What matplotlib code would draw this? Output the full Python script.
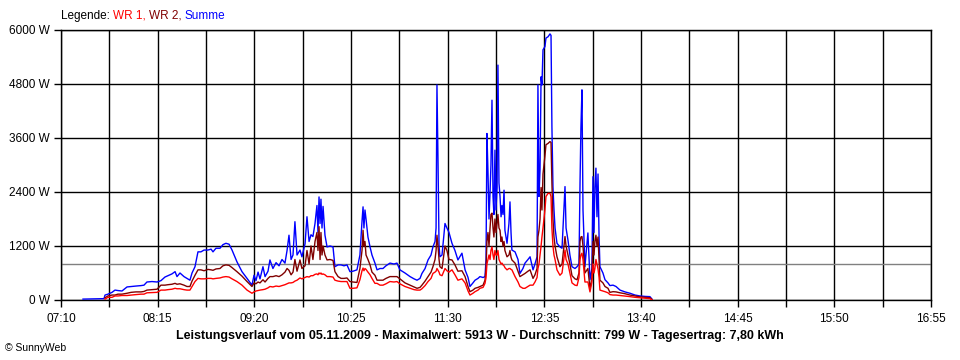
import matplotlib
matplotlib.use("Agg")
import matplotlib.pyplot as plt
from matplotlib.ticker import FixedLocator, MultipleLocator, FuncFormatter
import numpy as np

plt.rcParams['font.family'] = ['Liberation Sans', 'DejaVu Sans']

# time in minutes after midnight
minute = [
    444.8, 452.9, 458.9, 459.6, 461.6, 464.3, 466.3, 468.3, 471.0, 474.4,
    477.1, 480.4, 483.8, 485.8, 487.8, 491.2, 494.6, 497.2, 499.9, 501.9,
    504.6, 506.7, 508.0, 510.0, 512.7, 514.7, 516.7, 518.1, 520.1, 522.1,
    524.1, 526.2, 528.8, 530.9, 532.2, 534.2, 536.9, 538.9, 540.9, 543.0,
    545.0, 548.3, 551.7, 555.1, 558.4, 559.8, 561.1, 562.5, 563.8, 565.8,
    567.2, 569.2, 570.5, 572.5, 574.6, 576.6, 578.6, 580.6, 582.0, 583.3,
    584.7, 586.0, 587.3, 588.7, 590.7, 592.0, 594.1, 595.4, 596.8, 598.1,
    599.4, 600.8, 602.1, 602.8, 603.5, 604.2, 604.8, 605.5, 606.2, 607.5,
    608.9, 610.9, 612.9, 614.2, 616.3, 618.3, 620.3, 622.3, 624.3, 626.3,
    629.0, 631.0, 632.4, 633.1, 633.7, 634.4, 635.1, 636.4, 637.8, 639.1,
    641.1, 642.5, 644.5, 646.5, 648.5, 651.2, 653.9, 655.9, 657.9, 661.3,
    664.7, 667.4, 669.4, 671.4, 672.7, 674.8, 676.8, 678.8, 680.1, 681.5,
    682.2, 682.8, 683.5, 684.2, 684.8, 686.2, 688.2, 689.5, 690.9, 692.9,
    694.9, 696.9, 699.6, 701.7, 703.7, 705.0, 707.0, 708.4, 710.4, 711.7,
    713.8, 715.1, 715.8, 716.4, 717.1, 717.8, 718.5, 719.1, 719.8, 720.5,
    721.1, 721.8, 722.5, 723.2, 723.8, 724.5, 725.2, 725.9, 726.5, 727.2,
    727.9, 728.5, 729.9, 731.2, 731.9, 732.6, 733.2, 735.3, 737.3, 738.6,
    740.6, 742.0, 744.0, 745.4, 747.4, 748.7, 750.1, 750.7, 751.4, 752.1,
    752.8, 753.4, 754.1, 755.4, 756.1, 757.5, 758.8, 759.5, 760.1, 760.8,
    761.5, 762.2, 763.5, 765.5, 766.9, 768.9, 769.6, 770.9, 772.2, 773.6,
    775.6, 777.0, 778.3, 779.0, 779.6, 780.3, 781.0, 782.3, 784.3, 785.7,
    787.0, 787.7, 788.4, 789.0, 789.7, 790.4, 791.1, 791.8, 792.4, 794.4,
    795.8, 797.8, 799.1, 801.2, 803.2, 805.9, 809.2, 812.6, 816.0, 819.3,
    822.7, 826.0, 827.4,
]

summe = [
    20, 25, 30, 110, 130, 170, 220, 210, 200, 290,
    300, 310, 320, 330, 400, 410, 400, 430, 510, 540,
    580, 630, 520, 600, 520, 480, 440, 600, 740, 1070,
    1070, 1110, 1110, 1130, 1070, 1150, 1150, 1230, 1260, 1240,
    1110, 850, 630, 480, 330, 550, 430, 620, 470, 740,
    520, 640, 890, 700, 830, 760, 900, 820, 1100, 1440,
    900, 1000, 1740, 1000, 1110, 960, 1250, 1850, 1300, 1450,
    1410, 1700, 2100, 1500, 2290, 1700, 2240, 1600, 2080, 1440,
    1180, 1200, 1180, 740, 780, 780, 760, 780, 630, 640,
    670, 1000, 1750, 2070, 1600, 2000, 1800, 1400, 1180, 1000,
    820, 670, 700, 700, 760, 820, 800, 820, 670, 600,
    520, 470, 440, 480, 590, 700, 890, 1000, 1180, 1300,
    1600, 4780, 3110, 1200, 960, 1000, 1700, 1600, 1500, 1260,
    1100, 890, 1040, 670, 500, 300, 380, 440, 480, 520,
    500, 520, 900, 3700, 2850, 1800, 2400, 3000, 4440, 2300,
    1900, 3330, 2000, 2500, 5220, 2600, 2300, 1850, 2100, 1900,
    2440, 1550, 1260, 1700, 2180, 1500, 1110, 1070, 900, 590,
    700, 820, 900, 960, 670, 800, 960, 4780, 2300, 2890,
    4960, 4780, 5560, 5630, 5820, 5850, 5913, 5880, 3850, 2520,
    2000, 1600, 1260, 1180, 1150, 2520, 1600, 1330, 1000, 740,
    700, 740, 800, 2600, 3820, 4670, 2000, 740, 1490, 450,
    700, 2740, 1500, 2500, 2930, 1850, 2800, 1400, 740, 600,
    450, 380, 320, 330, 300, 220, 180, 150, 110, 90,
    80, 75, 20,
]

wr2 = [
    None, None, None, 50, 90, 110, 110, 130, 130, 150,
    170, 180, 180, 190, 220, 230, 240, 330, 330, 340,
    350, 370, 350, 360, 330, 300, 300, 420, 550, 670,
    670, 650, 680, 670, 660, 690, 700, 760, 780, 770,
    720, 630, 530, 410, 300, 380, 360, 400, 380, 450,
    400, 480, 520, 520, 540, 520, 560, 620, 700, 660,
    560, 620, 900, 640, 890, 700, 760, 1100, 800, 1200,
    900, 1300, 1500, 1100, 1630, 900, 1500, 1000, 1200, 1000,
    890, 900, 880, 630, 520, 480, 480, 490, 410, 400,
    390, 700, 1100, 1550, 1200, 1300, 1000, 900, 780, 620,
    550, 440, 440, 440, 480, 520, 520, 520, 470, 380,
    330, 290, 260, 280, 330, 420, 520, 620, 740, 900,
    1100, 1440, 1200, 900, 740, 700, 1200, 1100, 900, 890,
    780, 640, 650, 520, 300, 185, 220, 260, 280, 300,
    330, 440, 700, 1300, 1500, 1200, 1600, 1900, 1930, 1600,
    1400, 1800, 1500, 1700, 1900, 1600, 1550, 1300, 1400, 1200,
    1300, 1100, 960, 1000, 1100, 950, 890, 820, 640, 520,
    560, 590, 640, 670, 480, 560, 700, 1400, 1550, 1800,
    2500, 2000, 2800, 3200, 3450, 3480, 3520, 3500, 2600, 1800,
    1400, 1200, 960, 740, 800, 1410, 1200, 1000, 800, 540,
    470, 450, 600, 1300, 1400, 1410, 1200, 600, 700, 250,
    500, 1300, 1000, 1300, 1440, 1200, 1400, 900, 440, 380,
    300, 260, 170, 185, 180, 160, 140, 110, 90, 70,
    60, 50, 10,
]

wr1 = [
    None, None, None, 20, 60, 60, 90, 90, 100, 100,
    110, 120, 130, 130, 160, 165, 170, 220, 220, 230,
    240, 260, 250, 250, 230, 220, 220, 300, 410, 480,
    470, 470, 480, 480, 470, 480, 490, 510, 520, 510,
    470, 410, 330, 220, 150, 180, 200, 210, 220, 230,
    240, 270, 300, 290, 310, 300, 320, 340, 360, 380,
    380, 390, 420, 440, 490, 470, 500, 520, 510, 540,
    540, 570, 580, 560, 600, 580, 600, 570, 580, 560,
    520, 520, 510, 440, 420, 410, 410, 410, 260, 260,
    270, 450, 650, 710, 650, 700, 680, 620, 560, 480,
    370, 370, 330, 330, 360, 410, 400, 410, 360, 300,
    260, 230, 220, 220, 250, 320, 410, 480, 590, 620,
    640, 700, 660, 620, 560, 540, 700, 650, 620, 670,
    560, 440, 470, 380, 200, 110, 150, 185, 220, 260,
    280, 370, 500, 800, 900, 1000, 900, 1100, 1180, 1000,
    900, 1100, 1000, 1000, 1100, 900, 850, 800, 820, 780,
    760, 720, 670, 700, 700, 680, 670, 520, 400, 300,
    260, 260, 300, 330, 330, 400, 500, 700, 800, 1000,
    1200, 1400, 1600, 2000, 2300, 2370, 2370, 2300, 1600, 1200,
    1000, 900, 670, 550, 600, 1110, 900, 800, 600, 380,
    330, 320, 500, 900, 1000, 1040, 900, 400, 400, 180,
    400, 800, 600, 700, 900, 800, 690, 500, 220, 200,
    185, 160, 120, 110, 110, 100, 90, 75, 60, 50,
    40, 30, 5,
]

average = 799
title = ("Leistungsverlauf vom 05.11.2009 - Maximalwert: 5913 W - "
         "Durchschnitt: 799 W - Tagesertrag: 7,80 kWh")

t = np.array(minute)
s = np.array(summe, dtype=float)
w2 = np.array([np.nan if v is None else v for v in wr2], dtype=float)
w1 = np.array([np.nan if v is None else v for v in wr1], dtype=float)

fig = plt.figure(figsize=(9.6, 3.6), dpi=100)
ax = fig.add_axes([61 / 960, 60 / 360, 870 / 960, 270 / 360])

ax.plot(t, s, color="#0000ff", lw=1.0, zorder=3)
ax.plot(t, w2, color="#800000", lw=1.0, zorder=4)
ax.plot(t, w1, color="#ff0000", lw=1.0, zorder=5)
ax.axhline(average, color="#808080", lw=1.0, zorder=2)

# axis from 07:10 to 16:55, labels every 65 min, grid every 32.5 min
ax.set_xlim(430, 1015)
ax.set_ylim(0, 6000)
ax.xaxis.set_major_locator(FixedLocator(np.arange(430, 1016, 65)))
ax.xaxis.set_minor_locator(FixedLocator(np.arange(430, 1016, 32.5)))
ax.xaxis.set_major_formatter(FuncFormatter(lambda v, p: "%02d:%02d" % (v // 60, v % 60)))
ax.yaxis.set_major_locator(MultipleLocator(1200))
ax.yaxis.set_major_formatter(FuncFormatter(lambda v, p: "%d W" % v))
ax.grid(True, which="both", color="black", lw=1.0, zorder=1)
ax.set_axisbelow(True)
ax.tick_params(which="both", length=5, width=1, color="black", labelsize=8.5)
ax.tick_params(axis="x", pad=4)
ax.tick_params(axis="y", pad=3)
for sp in ax.spines.values():
    sp.set_color("black")
    sp.set_linewidth(1.0)

# legend line at the top
renderer = fig.canvas.get_renderer()
x = 61 / 960
for txt, col in [("Legende: ", "black"), ("WR 1, ", "#ff0000"),
                 ("WR 2, ", "#800000"), ("Summe", "#0000ff")]:
    tx = fig.text(x, 1 - 16 / 360, txt, color=col, fontsize=8.5, va="center", ha="left")
    x += tx.get_window_extent(renderer).width / fig.bbox.width

fig.text(480 / 960, 1 - 336 / 360, title, fontsize=9, fontweight="bold",
         ha="center", va="center")
fig.text(5 / 960, 1 - 348 / 360, "\u00a9 SunnyWeb", fontsize=7.5, ha="left", va="center")

fig.savefig("out.png", dpi=100)
